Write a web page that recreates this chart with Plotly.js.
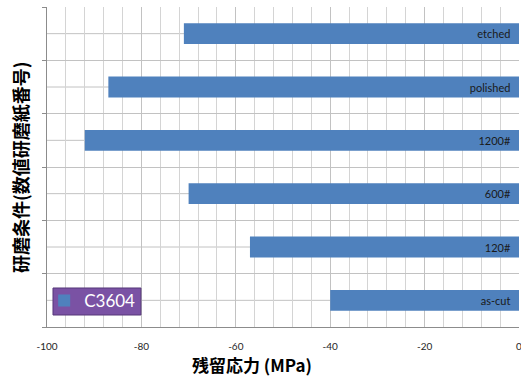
<!DOCTYPE html>
<html>
<head>
<meta charset="utf-8">
<script src="https://cdn.plot.ly/plotly-3.0.1.min.js"></script>
<style>
  html, body { margin: 0; padding: 0; background: #fff; }
  #chart { width: 521px; height: 378px; }
</style>
</head>
<body>
<div id="chart"></div>
<script>
// Polishing conditions, bottom to top
const conditions = ['as-cut', '120#', '600#', '1200#', 'polished', 'etched'];
// Residual stress for each condition (MPa)
const residualStress = [-40, -57, -70, -92, -87, -71];
const seriesName = 'C3604';
const xTickValues = [-100, -80, -60, -40, -20, 0];

const gridColor = '#c2c2c2';
const minorGridColor = '#d4d4d4';
const axisColor = '#8c8c8c';
const pad = '\u00a0\u00a0';

const trace = {
  type: 'bar',
  orientation: 'h',
  name: seriesName,
  y: conditions,
  x: residualStress,
  text: conditions.map(c => c + pad),
  textposition: 'inside',
  insidetextanchor: 'start',
  constraintext: 'none',
  textfont: { family: 'Lato, "Liberation Sans", sans-serif', size: 11, color: '#1a1a1a' },
  marker: { color: '#4f81bd', line: { width: 0 } },
  hoverinfo: 'x+y',
  showlegend: true
};

// lines through the middle of every row
const rowLines = conditions.map(c => ({
  type: 'line',
  xref: 'paper', x0: 0, x1: 1,
  yref: 'y', y0: c, y1: c,
  line: { color: gridColor, width: 1 },
  layer: 'below'
}));

// legend panel
const legendBox = {
  type: 'rect',
  xref: 'paper', yref: 'paper',
  x0: 0.0127, x1: 0.199, y0: 0.0375, y1: 0.1219,
  fillcolor: '#7a52a4',
  line: { color: '#563779', width: 1 },
  layer: 'above'
};

const layout = {
  width: 521,
  height: 378,
  margin: { l: 47, r: 2, t: 7, b: 51 },
  paper_bgcolor: '#ffffff',
  plot_bgcolor: '#ffffff',
  bargap: 0.61,
  font: { family: 'Lato, "Liberation Sans", sans-serif', color: '#262626' },
  xaxis: {
    range: [-100, 0],
    tickvals: xTickValues,
    ticktext: xTickValues.map(String),
    tickfont: { size: 10, color: '#262626' },
    ticks: '',
    ticklabelstandoff: 10,
    ticklabeloverflow: 'allow',
    showgrid: true,
    gridcolor: gridColor,
    gridwidth: 1,
    minor: { dtick: 4, tick0: 0, showgrid: true, gridcolor: minorGridColor, gridwidth: 1, ticks: '' },
    showline: true,
    linecolor: axisColor,
    linewidth: 1,
    zeroline: false,
    fixedrange: true
  },
  yaxis: {
    type: 'category',
    categoryorder: 'array',
    categoryarray: conditions,
    showticklabels: false,
    tickson: 'boundaries',
    ticks: 'outside',
    ticklen: 4,
    tickcolor: axisColor,
    showgrid: true,
    gridcolor: gridColor,
    gridwidth: 1,
    showline: true,
    linecolor: axisColor,
    linewidth: 1,
    zeroline: false,
    fixedrange: true
  },
  shapes: rowLines.concat([legendBox]),
  legend: {
    x: -0.006,
    y: 0.1375,
    xanchor: 'left',
    yanchor: 'top',
    bgcolor: 'rgba(0,0,0,0)',
    borderwidth: 0,
    itemwidth: 30,
    font: { family: 'Lato, "Liberation Sans", sans-serif', size: 17, color: '#ffffff' }
  },
  annotations: [
    {
      text: '<b>残留応力 (MPa)</b>',
      xref: 'paper', yref: 'paper',
      x: 0.434, y: -0.118,
      xanchor: 'center', yanchor: 'middle',
      showarrow: false,
      font: { family: '"Noto Sans CJK JP", sans-serif', size: 17, color: '#000000' }
    },
    {
      text: '<b>研磨条件(数値研磨紙番号)</b>',
      xref: 'paper', yref: 'paper',
      x: -0.057, y: 0.5,
      xanchor: 'center', yanchor: 'middle',
      textangle: -90,
      showarrow: false,
      font: { family: '"Noto Sans CJK JP", sans-serif', size: 18, color: '#000000' }
    }
  ]
};

Plotly.newPlot('chart', [trace], layout, { displayModeBar: false, staticPlot: true });
</script>
</body>
</html>
